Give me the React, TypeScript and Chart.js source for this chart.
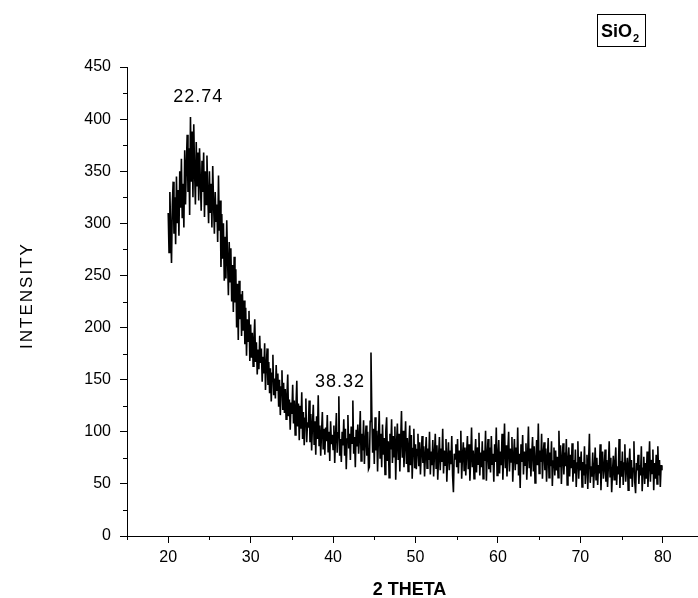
import React, { useEffect, useRef } from "react";
import { Chart, registerables } from "chart.js";

Chart.register(...registerables);

// Sampling grid of the diffractogram (2θ, degrees)
const THETA_START = 20;
const THETA_STEP = 0.1;

// Intensity, 10 samples per degree
const intensity20s = [
  310, 272, 330, 295, 262, 318, 340, 290, 325, 280,
  345, 300, 332, 288, 350, 315, 362, 305, 338, 296,
  370, 318, 356, 385, 330, 372, 308, 402, 340, 388,
  325, 395, 350, 318, 378, 336, 368, 322, 372, 340,
  312, 360, 330, 368, 306, 350, 318, 365, 328, 300,
  350, 310, 338, 296, 355, 320, 290, 330, 302, 318,
  282, 346, 293, 322, 258, 309, 266, 300, 245, 287,
  247, 303, 266, 231, 282, 244, 276, 225, 260, 215,
  268, 224, 256, 200, 242, 188, 245, 208, 232, 192,
  235, 197, 226, 184, 219, 173, 208, 187, 216, 168,
];
const intensity30s = [
  203, 171, 195, 163, 189, 208, 167, 186, 155, 179,
  160, 192, 166, 180, 148, 172, 156, 185, 140, 164,
  180, 145, 167, 137, 161, 129, 156, 174, 135, 151,
  132, 164, 140, 156, 124, 150, 116, 143, 159, 121,
  147, 118, 141, 112, 134, 155, 115, 131, 102, 128,
  117, 145, 108, 130, 97, 124, 149, 105, 127, 92,
  125, 103, 138, 93, 119, 87, 113, 132, 90, 109,
  104, 130, 90, 117, 82, 107, 126, 88, 110, 78,
  115, 93, 135, 87, 106, 77, 99, 119, 83, 103,
  78, 104, 91, 116, 81, 100, 72, 110, 88, 97,
];
const intensity40s = [
  83, 106, 70, 96, 118, 80, 99, 134, 77, 93,
  71, 100, 87, 112, 77, 103, 64, 93, 116, 84,
  98, 73, 105, 89, 130, 79, 95, 66, 102, 86,
  107, 79, 95, 120, 72, 98, 82, 111, 69, 91,
  106, 77, 100, 64, 66, 110, 176, 118, 80, 103,
  69, 114, 82, 101, 62, 94, 120, 75, 98, 66,
  107, 78, 94, 59, 101, 114, 72, 91, 56, 98,
  83, 112, 70, 96, 76, 105, 54, 89, 108, 73,
  98, 62, 91, 120, 75, 101, 66, 88, 110, 69,
  94, 62, 87, 106, 68, 97, 55, 84, 103, 65,
];
const intensity50s = [
  88, 64, 83, 98, 67, 90, 59, 80, 96, 70,
  86, 57, 78, 95, 65, 84, 73, 100, 59, 81,
  68, 92, 57, 79, 98, 65, 87, 54, 76, 95,
  63, 84, 71, 103, 60, 82, 68, 93, 52, 76,
  90, 63, 82, 69, 96, 58, 42, 79, 74, 88,
  66, 93, 60, 82, 71, 101, 55, 77, 90, 63,
  85, 58, 80, 96, 64, 88, 53, 74, 104, 66,
  82, 55, 77, 93, 61, 85, 69, 99, 58, 80,
  66, 91, 55, 82, 72, 101, 53, 77, 93, 64,
  85, 61, 96, 69, 79, 52, 88, 71, 104, 58,
];
const intensity60s = [
  76, 92, 60, 81, 68, 98, 54, 79, 108, 65,
  87, 57, 81, 100, 62, 84, 71, 95, 52, 76,
  93, 63, 85, 69, 104, 58, 79, 46, 88, 71,
  97, 59, 81, 68, 89, 54, 76, 105, 65, 84,
  57, 78, 95, 62, 86, 51, 73, 92, 68, 108,
  60, 82, 71, 98, 55, 79, 90, 63, 84, 52,
  75, 94, 56, 80, 67, 91, 48, 72, 85, 58,
  82, 63, 76, 56, 101, 66, 87, 50, 74, 89,
  59, 80, 67, 93, 49, 72, 85, 57, 78, 65,
  89, 52, 73, 60, 83, 47, 70, 91, 55, 76,
];
const intensity70s = [
  63, 81, 47, 71, 58, 86, 50, 68, 78, 45,
  72, 98, 51, 67, 57, 80, 46, 64, 85, 54,
  75, 49, 68, 60, 88, 44, 70, 81, 55, 65,
  83, 52, 73, 47, 68, 91, 57, 75, 42, 62,
  77, 54, 70, 85, 49, 67, 59, 93, 46, 72,
  57, 81, 49, 70, 88, 52, 65, 75, 44, 68,
  84, 55, 73, 47, 65, 91, 52, 41, 70, 63,
  78, 50, 68, 58, 86, 43, 65, 76, 50, 70,
  55, 81, 47, 68, 91, 52, 73, 60, 83, 44,
  70, 55, 78, 50, 86, 58, 73, 47, 68, 63,
];

const xMajorTicks = [20, 30, 40, 50, 60, 70, 80];
const xMinorTicks = [15, 25, 35, 45, 55, 65, 75, 85];
const yMinorTicks = [25, 75, 125, 175, 225, 275, 325, 375, 425];

const peakLabels = [
  { text: "22.74", x: 20.6, y: 416 },
  { text: "38.32", x: 37.8, y: 143 },
];

const sampleName = "SiO";
const sampleSub = "2";
const xTitle = "2 THETA";
const yTitle = "INTENSITY";

const FONT = '"Liberation Sans", Arial, Helvetica, sans-serif';

export default function App() {
  const ref = useRef<HTMLCanvasElement | null>(null);

  useEffect(() => {
    if (!ref.current) return;
    const values = [
      ...intensity20s,
      ...intensity30s,
      ...intensity40s,
      ...intensity50s,
      ...intensity60s,
      ...intensity70s,
    ];
    const points = values.map((v, i) => ({
      x: Math.round((THETA_START + i * THETA_STEP) * 10) / 10,
      y: v,
    }));

    const overlay = {
      id: "overlay",
      afterDraw(chart: any) {
        const ctx = chart.ctx as CanvasRenderingContext2D;
        const xs = chart.scales.x;
        const ys = chart.scales.y;
        const area = chart.chartArea;
        ctx.save();
        // minor ticks
        ctx.strokeStyle = "#000";
        ctx.lineWidth = 1;
        ctx.beginPath();
        xMinorTicks.forEach((v) => {
          const px = Math.round(xs.getPixelForValue(v)) + 0.5;
          ctx.moveTo(px, area.bottom);
          ctx.lineTo(px, area.bottom + 4);
        });
        yMinorTicks.forEach((v) => {
          const py = Math.round(ys.getPixelForValue(v)) + 0.5;
          ctx.moveTo(area.left - 4, py);
          ctx.lineTo(area.left, py);
        });
        ctx.stroke();

        // peak labels
        ctx.fillStyle = "#000";
        ctx.font = `18px ${FONT}`;
        ctx.textAlign = "left";
        ctx.textBaseline = "alphabetic";
        (ctx as any).letterSpacing = "1px";
        peakLabels.forEach((l) => {
          ctx.fillText(l.text, xs.getPixelForValue(l.x), ys.getPixelForValue(l.y));
        });
        (ctx as any).letterSpacing = "0px";

        // x title
        ctx.font = `bold 18px ${FONT}`;
        ctx.textAlign = "center";
        ctx.textBaseline = "middle";
        ctx.fillText(xTitle, (area.left + area.right) / 2 - 6, 590);

        // y title
        ctx.save();
        ctx.translate(27, (area.top + area.bottom) / 2 - 6);
        ctx.rotate(-Math.PI / 2);
        ctx.font = `17px ${FONT}`;
        (ctx as any).letterSpacing = "2px";
        ctx.textAlign = "center";
        ctx.textBaseline = "middle";
        ctx.fillText(yTitle, 0, 0);
        ctx.restore();

        // sample legend box
        ctx.lineWidth = 1;
        ctx.strokeStyle = "#000";
        ctx.strokeRect(597.5, 14.5, 48, 32);
        ctx.textAlign = "left";
        ctx.textBaseline = "alphabetic";
        ctx.font = `bold 18px ${FONT}`;
        ctx.fillText(sampleName, 601, 37);
        const w = ctx.measureText(sampleName).width;
        ctx.font = `bold 11px ${FONT}`;
        ctx.fillText(sampleSub, 601 + w + 1, 42);
        ctx.restore();
      },
    };

    const tickFont = { family: FONT, size: 16 };
    const chart = new Chart(ref.current, {
      type: "line",
      data: {
        datasets: [
          {
            data: points,
            borderColor: "#000",
            borderWidth: 1.6,
            pointRadius: 0,
            tension: 0,
            fill: false,
            borderJoinStyle: "miter",
          },
        ],
      },
      options: {
        responsive: false,
        animation: false,
        devicePixelRatio: 1,
        events: [],
        layout: { padding: { top: 67, right: 6, bottom: 0, left: 0 } },
        plugins: {
          legend: { display: false },
          tooltip: { enabled: false },
          title: { display: false },
        },
        scales: {
          x: {
            type: "linear",
            min: 15,
            max: 85,
            afterFit: (s: any) => {
              s.height = 62;
            },
            afterBuildTicks: (s: any) => {
              s.ticks = xMajorTicks.map((v) => ({ value: v }));
            },
            ticks: {
              color: "#000",
              font: tickFont,
              padding: 5,
              maxRotation: 0,
              autoSkip: false,
            },
            grid: {
              display: true,
              drawOnChartArea: false,
              drawTicks: true,
              tickLength: 7,
              tickColor: "#000",
              tickWidth: 1,
            },
            border: { display: true, color: "#000", width: 1 },
          },
          y: {
            type: "linear",
            min: 0,
            max: 450,
            afterFit: (s: any) => {
              s.width = 127;
            },
            ticks: {
              stepSize: 50,
              color: "#000",
              font: tickFont,
              padding: 9,
              autoSkip: false,
            },
            grid: {
              display: true,
              drawOnChartArea: false,
              drawTicks: true,
              tickLength: 7,
              tickColor: "#000",
              tickWidth: 1,
            },
            border: { display: true, color: "#000", width: 1 },
          },
        },
      },
      plugins: [overlay],
    } as any);

    return () => chart.destroy();
  }, []);

  return (
    <div
      style={{
        position: "fixed",
        left: 0,
        top: 0,
        width: 698,
        height: 598,
        overflow: "hidden",
        background: "#fff",
      }}
    >
      <canvas ref={ref} width={710} height={598} style={{ display: "block" }} />
    </div>
  );
}
